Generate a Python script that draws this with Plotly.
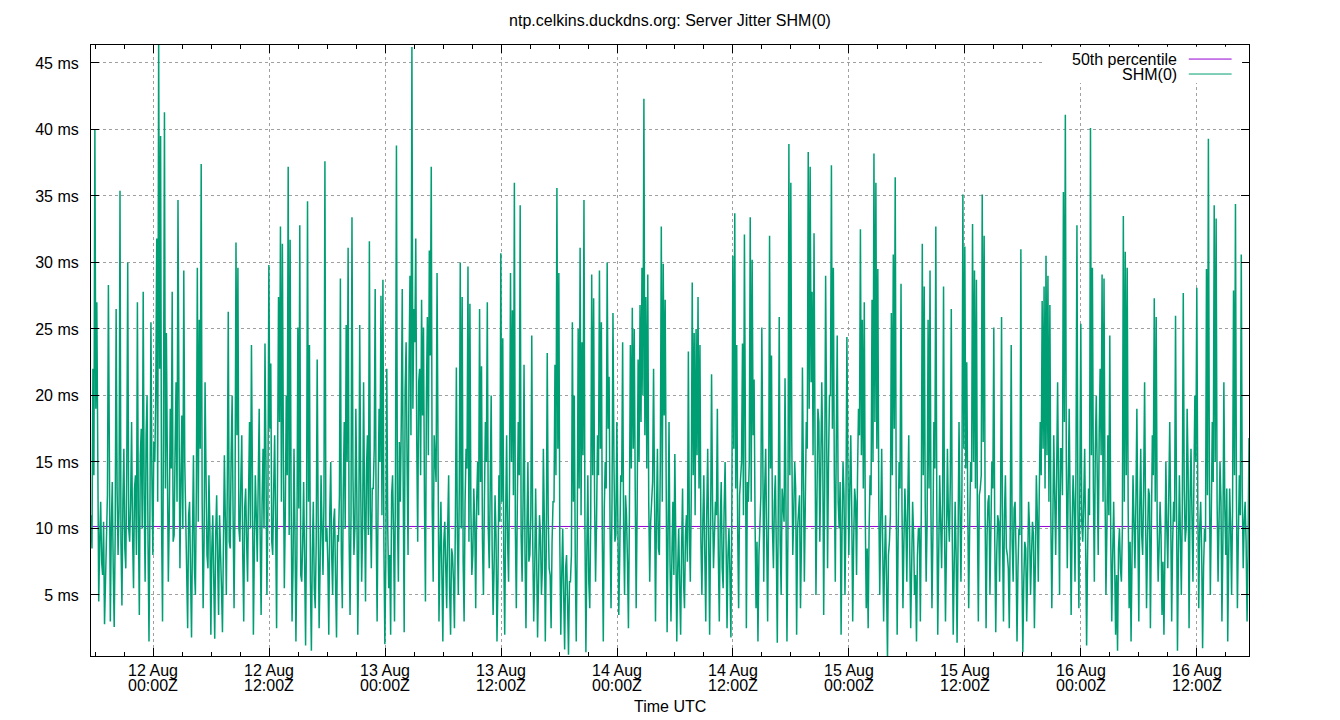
import pandas as pd
import plotly.graph_objects as go

# samples, one every 6 minutes:
# jitter_main_ms holds the even samples (peaks and dips), jitter_mid_ms the samples in between
start = "2024-08-11 17:35"
step = "6min"

jitter_main_ms = [
    11.0, 22.0, 40.0, 27.0, 4.5, 12.0, 6.5, 2.8, 9.5, 28.3, 3.0, 13.5, 2.6, 26.5, 8.0, 35.4, 4.2, 16.0, 7.0, 30.0,
    9.0, 18.0, 5.5, 14.0, 27.0, 3.5, 17.5, 27.8, 6.0, 20.0, 1.5, 25.5, 8.0, 15.0, 31.8, 46.5, 39.5, 3.0, 41.3, 24.7,
    6.0, 19.0, 27.8, 9.5, 21.0, 34.7, 7.0, 18.5, 29.4, 10.0, 2.5, 12.0, 1.8, 15.5, 5.0, 29.6, 25.7, 37.4, 4.0, 21.0,
    8.0, 14.0, 2.0, 11.0, 1.7, 12.5, 3.5, 9.0, 2.2, 15.5, 5.0, 26.3, 8.5, 20.0, 4.0, 31.5, 29.6, 9.0, 17.0, 3.0,
    13.0, 6.0, 18.0, 23.8, 2.0, 14.0, 7.5, 19.0, 3.5, 16.0, 23.9, 5.0, 29.8, 22.4, 8.0, 17.0, 2.5, 27.4, 32.7, 31.4,
    5.5, 20.0, 37.2, 31.7, 3.0, 16.0, 1.5, 25.1, 32.8, 6.0, 13.5, 1.2, 34.6, 23.8, 0.8, 12.0, 4.0, 22.7, 2.5, 14.0,
    6.5, 37.6, 10.0, 2.0, 15.0, 5.0, 11.5, 1.8, 9.0, 28.8, 4.0, 18.0, 25.3, 31.1, 3.5, 33.4, 8.0, 19.0, 2.0, 25.3,
    6.0, 21.0, 4.5, 17.0, 31.6, 7.0, 13.0, 28.0, 3.0, 19.0, 27.5, 28.7, 1.3, 22.0, 5.5, 2.0, 14.0, 3.0, 38.8, 6.0,
    12.0, 28.0, 2.2, 24.0, 8.0, 29.0, 46.2, 26.5, 31.8, 9.0, 22.0, 27.2, 25.1, 4.5, 25.9, 30.9, 37.2, 6.0, 15.0, 29.2,
    3.0, 12.0, 1.5, 10.5, 4.0, 14.0, 2.0, 8.0, 2.5, 22.1, 5.0, 30.0, 27.4, 3.0, 16.0, 29.7, 26.9, 6.5, 13.0, 4.0,
    15.0, 26.5, 22.2, 5.0, 18.0, 27.0, 7.0, 20.0, 3.5, 12.5, 1.5, 14.0, 30.7, 24.3, 2.0, 17.0, 6.0, 29.2, 26.4, 36.0,
    4.0, 18.0, 34.3, 6.0, 22.3, 2.5, 15.0, 8.0, 24.5, 3.0, 13.0, 1.8, 11.0, 5.0, 16.0, 1.5, 23.2, 7.0, 2.5, 12.0,
    22.3, 35.6, 29.2, 2.0, 10.0, 0.9, 8.0, 0.5, 6.0, 25.5, 20.0, 1.5, 25.0, 31.1, 24.0, 34.7, 0.7, 14.0, 4.0, 29.1,
    27.3, 6.0, 17.0, 29.4, 25.5, 1.5, 15.0, 30.0, 21.4, 4.0, 26.2, 9.0, 18.0, 3.5, 14.0, 24.0, 5.0, 11.0, 2.5, 23.8,
    26.6, 25.0, 4.0, 22.7, 26.8, 29.6, 42.3, 27.4, 29.1, 6.0, 12.0, 22.0, 3.0, 16.0, 8.0, 32.7, 29.9, 27.2, 2.2, 18.0,
    3.0, 12.0, 15.6, 1.5, 10.0, 2.0, 13.0, 4.0, 11.0, 23.3, 6.0, 28.5, 24.7, 25.0, 27.4, 23.8, 5.0, 14.0, 3.0, 16.0,
    2.0, 21.6, 7.0, 12.0, 19.0, 3.0, 13.5, 5.5, 15.0, 2.5, 10.0, 1.8, 30.5, 33.7, 23.8, 4.0, 14.0, 23.9, 32.1, 2.5,
    12.0, 33.4, 30.2, 21.2, 4.0, 1.5, 11.0, 25.1, 6.0, 16.0, 3.0, 32.0, 23.0, 7.0, 14.0, 1.4, 25.9, 5.0, 12.0, 21.3,
    1.5, 38.9, 36.0, 8.0, 15.0, 2.0, 12.0, 4.0, 22.1, 6.0, 18.0, 38.3, 37.2, 27.8, 32.2, 5.0, 19.0, 9.0, 21.0, 3.5,
    29.0, 7.0, 20.0, 37.3, 29.6, 6.0, 24.5, 10.0, 2.0, 15.0, 5.0, 24.4, 8.0, 17.0, 3.0, 13.0, 6.5, 19.0, 32.5, 25.7,
    27.0, 4.0, 2.5, 14.0, 27.2, 38.2, 36.0, 29.5, 5.0, 16.0, 3.0, 11.0, 0.2, 9.0, 26.2, 30.6, 36.4, 2.0, 15.0, 28.4,
    4.0, 13.0, 6.0, 17.0, 2.5, 12.0, 5.0, 1.5, 10.0, 3.0, 31.4, 28.2, 6.0, 25.7, 29.4, 4.0, 18.0, 32.7, 2.0, 14.0,
    7.0, 28.2, 3.0, 16.0, 9.0, 26.5, 2.0, 12.0, 1.4, 18.0, 6.0, 35.1, 31.2, 22.5, 4.0, 15.0, 32.9, 29.4, 28.7, 3.0,
    13.0, 35.1, 32.0, 2.5, 12.0, 5.0, 15.0, 25.1, 2.2, 11.0, 6.0, 25.9, 3.0, 14.0, 8.0, 2.5, 23.8, 6.0, 12.0, 1.5,
    10.0, 31.0, 0.7, 9.0, 3.0, 12.0, 5.0, 10.5, 2.5, 14.0, 6.0, 18.0, 27.1, 28.2, 30.5, 29.0, 26.8, 4.0, 17.0, 8.0,
    21.0, 5.0, 16.0, 35.3, 41.1, 7.0, 19.0, 3.5, 14.0, 6.0, 32.8, 4.0, 25.4, 9.0, 16.0, 1.2, 13.0, 40.1, 29.6, 6.0,
    20.0, 8.0, 22.0, 29.1, 28.8, 5.0, 17.0, 24.5, 3.0, 12.0, 2.0, 0.8, 10.0, 6.0, 33.5, 30.8, 29.6, 4.0, 1.5, 14.0,
    7.0, 19.0, 3.0, 16.0, 8.0, 21.0, 4.0, 13.0, 2.5, 17.0, 27.3, 25.9, 6.0, 12.0, 3.5, 2.0, 15.0, 7.0, 18.0, 3.0,
    12.0, 26.0, 0.8, 14.0, 5.0, 27.7, 9.0, 19.0, 2.5, 16.0, 6.0, 20.0, 28.1, 4.0, 12.0, 1.0, 10.0, 29.5, 39.3, 5.0,
    18.0, 34.3, 33.3, 6.0, 15.0, 3.0, 21.0, 8.0, 1.5, 13.0, 5.0, 27.9, 34.4, 4.0, 14.0, 30.6, 7.0, 12.0, 3.0, 16.8,
]

jitter_mid_ms = [
    8.5, 14.0, 19.0, 11.0, 9.0, 7.5, 10.5, 6.0, 12.5, 8.0, 10.0, 7.0, 9.5, 13.0, 11.5, 9.0, 12.0, 8.5, 14.5, 10.0,
    12.0, 9.5, 13.0, 8.0, 11.0, 15.5, 10.0, 12.5, 17.0, 9.0, 11.5, 14.0, 16.5, 20.0, 12.0, 22.0, 10.5, 18.0, 13.0, 15.0,
    11.0, 14.5, 9.0, 16.0, 12.0, 19.5, 13.5, 10.0, 15.0, 8.0, 11.0, 6.5, 9.5, 7.0, 13.0, 10.5, 16.0, 12.0, 9.0, 14.0,
    7.0, 10.0, 8.5, 6.0, 9.5, 7.5, 11.0, 5.5, 8.0, 10.5, 13.0, 9.0, 15.5, 11.0, 12.0, 17.0, 10.0, 13.5, 8.0, 11.5,
    9.0, 12.5, 10.0, 14.0, 8.5, 11.0, 13.5, 9.5, 12.0, 10.0, 15.0, 11.5, 17.5, 9.0, 13.0, 10.5, 14.5, 18.0, 12.0, 16.0,
    11.0, 14.0, 9.5, 12.5, 7.0, 10.0, 8.0, 11.5, 6.5, 9.0, 7.5, 10.5, 12.0, 6.0, 8.5, 5.5, 9.0, 11.0, 7.0, 10.0,
    12.0, 9.0, 7.5, 11.0, 8.0, 10.5, 6.0, 9.5, 12.5, 8.0, 13.0, 10.0, 15.0, 9.5, 11.0, 14.0, 10.0, 12.5, 8.5, 13.5,
    10.0, 12.0, 14.5, 9.5, 11.5, 13.0, 16.0, 10.5, 12.0, 15.0, 11.0, 9.0, 7.5, 10.0, 8.0, 12.5, 9.5, 14.0, 11.0, 16.5,
    18.0, 13.0, 20.5, 15.0, 22.0, 17.0, 19.0, 24.0, 16.5, 21.0, 14.0, 18.5, 12.0, 20.0, 15.5, 23.0, 11.5, 17.0, 13.5, 10.0,
    8.0, 6.5, 9.0, 7.0, 10.0, 5.5, 8.5, 6.0, 11.0, 9.5, 13.0, 10.0, 7.5, 12.0, 14.5, 9.0, 11.5, 8.0, 10.5, 12.0,
    11.0, 13.5, 9.0, 12.0, 15.0, 10.0, 13.0, 8.5, 7.0, 9.5, 6.0, 10.5, 12.0, 8.0, 11.0, 9.0, 13.5, 15.0, 12.5, 10.0,
    11.5, 14.0, 9.5, 12.0, 8.0, 10.0, 7.5, 11.0, 9.0, 6.5, 8.0, 6.0, 9.5, 7.0, 10.5, 8.5, 11.0, 6.5, 9.0, 12.0,
    14.0, 16.0, 9.0, 6.5, 5.0, 7.0, 4.5, 6.0, 8.0, 12.0, 7.5, 9.0, 13.0, 11.0, 15.5, 10.0, 8.5, 6.0, 11.0, 14.0,
    12.0, 10.5, 14.0, 16.0, 9.0, 11.5, 13.0, 17.5, 10.0, 12.0, 15.0, 9.5, 11.0, 8.0, 13.5, 10.0, 12.5, 7.5, 11.0, 14.5,
    16.0, 13.0, 11.5, 15.0, 18.0, 20.0, 17.0, 14.5, 12.0, 10.5, 13.5, 9.0, 11.0, 8.5, 15.0, 12.0, 18.5, 14.0, 9.5, 7.5,
    8.0, 6.5, 9.0, 7.0, 5.5, 8.5, 6.0, 9.5, 7.5, 10.0, 12.5, 14.0, 11.0, 15.5, 13.0, 9.0, 10.5, 8.0, 11.0, 9.5,
    10.0, 12.0, 9.5, 11.0, 8.0, 10.5, 7.0, 11.5, 9.0, 8.0, 6.5, 12.0, 16.0, 13.0, 10.0, 12.5, 15.0, 11.0, 9.0, 13.5,
    15.0, 12.0, 17.0, 10.5, 9.0, 8.0, 12.5, 10.0, 13.0, 9.5, 11.0, 14.5, 10.0, 12.0, 8.5, 11.5, 9.0, 13.0, 10.5, 12.0,
    9.5, 14.0, 16.5, 11.0, 13.0, 10.0, 12.5, 9.0, 15.0, 12.0, 16.0, 19.0, 21.0, 15.5, 17.0, 12.0, 18.0, 14.5, 16.0, 13.0,
    18.0, 15.0, 20.0, 17.5, 14.0, 16.5, 12.0, 13.5, 10.0, 12.5, 11.0, 15.0, 13.0, 11.5, 9.0, 12.0, 14.0, 17.0, 15.5, 13.0,
    11.0, 8.5, 10.0, 12.5, 15.0, 18.0, 16.0, 12.0, 10.5, 9.0, 7.5, 6.0, 8.0, 11.0, 14.0, 17.5, 12.5, 9.0, 13.0, 11.5,
    9.0, 10.5, 12.0, 8.5, 7.0, 9.5, 6.5, 8.0, 10.0, 11.5, 14.0, 12.0, 10.5, 13.0, 11.0, 9.5, 14.5, 12.0, 8.0, 10.5,
    12.0, 10.0, 8.5, 11.0, 13.5, 9.5, 7.0, 8.0, 9.0, 11.5, 13.0, 16.0, 14.5, 12.0, 10.0, 13.5, 15.0, 13.0, 11.0, 12.5,
    14.0, 16.5, 11.0, 9.5, 12.5, 10.0, 13.0, 9.0, 8.0, 10.5, 12.0, 9.5, 11.0, 8.5, 7.0, 10.0, 9.0, 11.5, 8.0, 7.0,
    9.5, 7.5, 6.0, 8.5, 7.0, 10.0, 8.0, 9.5, 7.5, 11.0, 12.5, 14.0, 16.0, 13.0, 15.5, 12.0, 11.0, 10.0, 12.5, 14.0,
    13.0, 16.0, 12.5, 18.0, 15.0, 13.5, 11.0, 10.0, 12.0, 14.5, 11.5, 13.0, 10.5, 12.0, 9.0, 8.0, 11.0, 15.5, 13.0, 16.0,
    14.0, 17.0, 15.5, 12.0, 13.5, 10.0, 11.0, 9.0, 8.0, 7.5, 6.5, 8.5, 7.0, 10.0, 12.0, 14.0, 11.5, 9.0, 8.0, 10.5,
    12.0, 10.0, 11.5, 9.5, 13.0, 11.0, 9.0, 12.5, 10.0, 14.0, 12.0, 10.5, 8.5, 9.5, 7.5, 8.0, 10.0, 12.5, 11.0, 9.0,
    10.5, 12.0, 8.0, 9.5, 11.5, 13.0, 10.0, 14.5, 12.0, 11.0, 13.5, 15.0, 12.0, 10.0, 8.5, 7.0, 9.0, 12.5, 14.0, 11.0,
    13.5, 15.0, 12.0, 10.5, 12.0, 9.0, 11.5, 13.0, 8.0, 10.0, 11.5, 14.0, 12.5, 9.5, 11.0, 13.0, 10.5, 9.0, 8.0,
]

p50_ms = 10.15

tick_times = ["2024-08-12 00:00", "2024-08-12 12:00", "2024-08-13 00:00", "2024-08-13 12:00",
              "2024-08-14 00:00", "2024-08-14 12:00", "2024-08-15 00:00", "2024-08-15 12:00",
              "2024-08-16 00:00", "2024-08-16 12:00"]
tick_days = ["12 Aug", "12 Aug", "13 Aug", "13 Aug", "14 Aug", "14 Aug", "15 Aug", "15 Aug", "16 Aug", "16 Aug"]
tick_hours = ["00:00Z", "12:00Z", "00:00Z", "12:00Z", "00:00Z", "12:00Z", "00:00Z", "12:00Z", "00:00Z", "12:00Z"]
y_ticks = [5, 10, 15, 20, 25, 30, 35, 40, 45]

jitter_ms = []
for i, v in enumerate(jitter_main_ms):
    jitter_ms.append(v)
    if i < len(jitter_mid_ms):
        jitter_ms.append(jitter_mid_ms[i])

times = pd.date_range(start, periods=len(jitter_ms), freq=step)

fig = go.Figure()
fig.add_trace(go.Scatter(x=[times[0], times[-1]], y=[p50_ms, p50_ms], mode="lines",
                         line=dict(color="#9400d3", width=1), name="50th percentile"))
fig.add_trace(go.Scatter(x=times, y=jitter_ms, mode="lines",
                         line=dict(color="#009e73", width=1.5), name="SHM(0)"))

grid = dict(showgrid=True, gridcolor="#a0a0a0", gridwidth=1, griddash="3px,3px")

fig.update_xaxes(range=[times[0], times[-1]], tickvals=tick_times, ticktext=tick_days,
                 ticks="inside", ticklen=8, tickcolor="black", showline=True, linecolor="black",
                 linewidth=1, mirror="allticks", zeroline=False,
                 minor=dict(dtick=3 * 3600 * 1000, tick0="2024-08-12", ticks="inside", ticklen=4,
                            tickcolor="black", showgrid=False),
                 automargin=False, **grid)
fig.update_yaxes(range=[0.41, 46.35], tickvals=y_ticks, ticktext=[f"{v} ms" for v in y_ticks],
                 ticks="inside", ticklen=8, tickcolor="black", showline=True, linecolor="black",
                 linewidth=1, mirror="allticks", zeroline=False, ticklabelstandoff=8,
                 automargin=False, **grid)

# second line of the time labels, closer than plotly's own line spacing
for t, h in zip(tick_times, tick_hours):
    fig.add_annotation(text=h, x=t, xref="x", y=0, yref="paper", yshift=-29,
                       xanchor="center", yanchor="middle", showarrow=False, borderpad=0)
fig.add_annotation(text="Time UTC", x=0.5, xref="paper", y=0, yref="paper", yshift=-50,
                   xanchor="center", yanchor="middle", showarrow=False, borderpad=0)

# gnuplot style key: opaque box, text on the left, sample line on the right
fig.add_shape(type="rect", xref="paper", yref="paper", x0=0.823, x1=0.994, y0=0.938, y1=0.997,
              fillcolor="white", line=dict(width=0), layer="above")
key = [("50th percentile", "#9400d3", 0.977), ("SHM(0)", "#009e73", 0.9525)]
for label, colour, ky in key:
    fig.add_annotation(text=label, xref="paper", yref="paper", x=0.9387, y=ky,
                       xanchor="right", yanchor="middle", showarrow=False, borderpad=0)
    fig.add_shape(type="line", xref="paper", yref="paper", x0=0.948, x1=0.985, y0=ky, y1=ky,
                  line=dict(color=colour, width=1), layer="above")

fig.update_layout(
    width=1340, height=720,
    margin=dict(l=91, r=91, t=45, b=64),
    paper_bgcolor="white", plot_bgcolor="white",
    font=dict(family="Liberation Sans, Arial, sans-serif", size=16, color="black"),
    title=dict(text="ntp.celkins.duckdns.org: Server Jitter SHM(0)", x=0.5, xanchor="center",
               y=0.972, yanchor="middle", font=dict(size=16)),
    showlegend=False,
)

fig.write_html("out.html", config={"displayModeBar": False},
               post_script="document.body.style.margin='0';")
